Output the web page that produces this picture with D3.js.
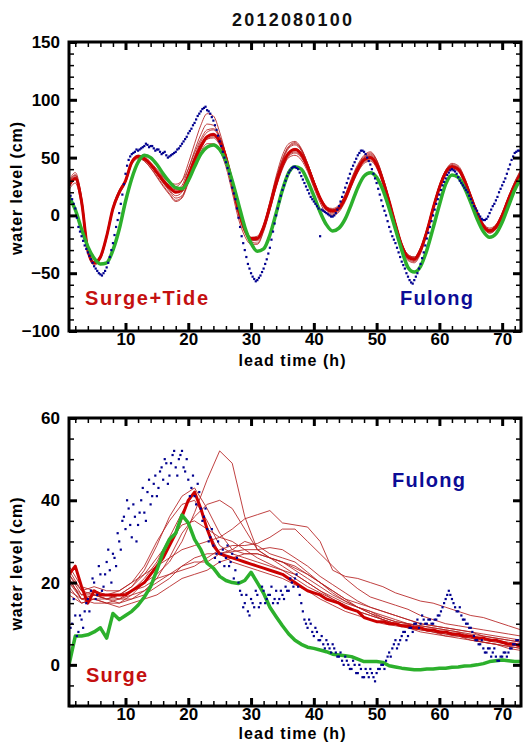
<!DOCTYPE html>
<html><head><meta charset="utf-8">
<script src="https://cdn.jsdelivr.net/npm/d3@7"></script>
<style>
html,body{margin:0;padding:0;background:#fff;}
svg{display:block;}
</style></head><body>
<svg id="c" width="526" height="745"></svg>
<script>
// ---------------- DATA ----------------
const title = "2012080100";
const xLabel = "lead time (h)";
const yLabel = "water level (cm)";
const xTicks = [10, 20, 30, 40, 50, 60, 70];
const topYTicks = [-100, -50, 0, 50, 100, 150];
const botYTicks = [0, 20, 40, 60];
const station = "Fulong";
const topTag = "Surge+Tide";
const botTag = "Surge";

// time grids (hours)
const hoursHourly = d3.range(1, 74, 1);                      // 1..73
const hours2h = d3.range(1, 74, 2);                          // 1,3,..,73
const hoursHalf = d3.range(0, 145).map(i => 1 + i * 0.5);    // 1..73 step .5
const hoursQuarter = d3.range(0, 144).map(i => 1.25 + i * 0.5); // 1.25..72.75 step .5

// ---- Top panel (surge + tide) observed at Fulong ----
const topObs = [
  20, 14, 6, -10, -18, -26, -32, -38, -44, -48,
  -51, -50, -45, -36, -24, -10, 2, 18, 36, 48,
  53, 55, 56, 58, 60, 61, 60, 58, 57, 55,
  54, 52, 51, 53, 55, 58, 62, 66, 71, 75,
  80, 86, 90, 93, 91, 88, 82, 74, 64, 55,
  46, 36, 24, 14, -2, -18, -30, -42, -50, -55,
  -56, -52, -46, -38, -28, -14, 0, 12, 22, 30,
  37, 41, 42, 40, 34, 28, 22, 16, 12, 8,
  -18, 4, 2, 0, -1, 2, 8, 16, 24, 32,
  40, 46, 52, 56, 55, 50, 44, 36, 28, 18,
  8, 0, -10, -18, -24, -32, -40, -46, -53, -58,
  -56, -50, -42, -32, -20, -10, 0, 10, 18, 26,
  32, 37, 40, 38, 33, 28, 24, 20, 14, 8,
  4, -1, -4, -3, 2, 8, 13, 20, 26, 32,
  40, 48, 54, 56, 55
];
const topObsQ = [
  17, 10, -2, -14, -22, -29, -35, -41, -46, -50,
  -52, -48, -41, -30, -17, -4, 10, 27, 43, 51,
  54, 57, 57, 59, 62, 59, 60, 56, 57, 53,
  55, 50, 52, 54, 57, 60, 64, 68, 73, 78,
  83, 88, 92, 94, 90, 85, 78, 69, 60, 50,
  41, 30, 19, 6, -10, -24, -36, -46, -53, -57,
  -54, -49, -42, -33, -21, -7, 6, 17, 26, 34,
  39, 42, 41, 37, 31, 25, 19, 14, 10, 6,
  5, 3, 1, -1, 0, 5, 12, 20, 28, 36,
  43, 49, 54, 56, 53, 47, 40, 32, 23, 13,
  4, -5, -14, -21, -28, -36, -43, -50, -56, -59,
  -53, -46, -37, -26, -15, -5, 5, 14, 22, 29,
  35, 39, 39, 36, 30, 26, 22, 17, 11, 6,
  1, -3, -4, -1, 5, 10, 16, 23, 29, 36,
  44, 51, 55, 56
];
const topGreen = [
  16, 5, -12, -27, -37, -42, -41, -30, -12, 12,
  32, 46, 52, 50, 44, 36, 29, 24, 23, 30,
  42, 53, 59, 61, 57, 47, 30, 10, -10, -24,
  -31, -29, -17, 2, 22, 37, 42, 40, 30, 17,
  3, -8, -13.5, -11, -3, 10, 24, 34, 37, 33,
  22, 6, -12, -30, -45, -49, -44, -30, -11, 9,
  27, 35, 33, 24, 11, -3, -14, -19, -16, -6,
  8, 22, 32
];
const topMean = [
  26, 32, 12, -30, -41, -36, -18, 6, 20, 30,
  46, 51, 49, 44, 37, 30, 24, 20, 22, 34,
  48, 60, 68, 70, 64, 50, 28, 5, -12, -20,
  -20, -10, 8, 28, 44, 54, 57, 53, 42, 28,
  15, 6, 3.5, 6, 15, 28, 40, 48, 50, 44,
  30, 12, -8, -26, -36, -38, -30, -14, 6, 24,
  37, 42, 40, 30, 16, 2, -9, -13.5, -10, 0,
  14, 26, 36
];
const topMemberA = [
  30, 37, 16, -27, -40, -35, -16, 8, 22, 31,
  47, 52, 50, 45, 39, 33, 28, 25, 30, 45,
  62, 78, 88, 86, 72, 52, 26, 2, -14, -22,
  -21, -9, 12, 34, 52, 62, 64, 58, 45, 30,
  16, 8, 5, 8, 18, 32, 44, 52, 55, 48,
  33, 14, -6, -24, -34, -36, -28, -12, 8, 26,
  39, 44, 42, 32, 18, 4, -8, -12, -9, 2,
  16, 29, 39
];
const topMemberB = [
  28, 35, 14, -29, -41, -36, -17, 7, 21, 31,
  47, 52, 50, 44, 37, 31, 26, 22, 26, 40,
  56, 70, 79, 78, 68, 52, 29, 6, -12, -19,
  -18, -8, 11, 32, 49, 60, 63, 57, 45, 30,
  16, 7, 5, 8, 17, 30, 42, 50, 53, 47,
  32, 13, -7, -25, -35, -37, -29, -13, 7, 25,
  38, 43, 41, 31, 17, 3, -8, -12.5, -9, 1,
  15, 28, 38
];
const topMemberC = [
  22, 28, 8, -33, -43, -38, -20, 4, 18, 28,
  44, 49, 47, 41, 33, 25, 18, 12, 15, 28,
  43, 55, 62, 62, 56, 42, 20, -3, -18, -25,
  -25, -14, 4, 24, 40, 50, 52, 48, 38, 24,
  11, 2, 0, 3, 12, 25, 37, 45, 47, 41,
  27, 9, -11, -29, -39, -41, -33, -16, 4, 22,
  35, 40, 38, 28, 14, 0, -11, -15.5, -12, -2,
  12, 24, 34
];
const topMemberD = [
  27, 33, 13, -30, -41, -36, -18, 6, 21, 30,
  46, 51, 49, 43, 36, 29, 22, 17, 20, 32,
  47, 60, 69, 71, 65, 50, 27, 4, -13, -21,
  -21, -11, 7, 27, 43, 54, 58, 54, 43, 29,
  16, 7, 4, 6, 15, 28, 40, 49, 51, 45,
  31, 12, -8, -26, -36, -38, -30, -14, 6, 24,
  37, 42, 40, 30, 16, 2, -9, -13, -10, 0,
  14, 26, 36
];
const topMemberE = [
  24, 31, 11, -31, -42, -37, -19, 5, 19, 29,
  45, 50, 48, 43, 36, 28, 21, 15, 17, 29,
  44, 57, 66, 68, 63, 49, 27, 4, -13, -21,
  -22, -12, 6, 26, 42, 52, 55, 51, 41, 27,
  14, 5, 2, 5, 14, 27, 39, 47, 49, 43,
  29, 11, -9, -27, -37, -39, -31, -15, 5, 23,
  36, 41, 39, 29, 15, 1, -10, -14, -11, -1,
  13, 25, 35
];
const topMemberF = [
  27, 34, 14, -29, -40, -35, -17, 7, 21, 30,
  46, 51, 50, 45, 38, 32, 26, 22, 24, 36,
  51, 64, 72, 74, 67, 52, 30, 7, -11, -19,
  -19, -9, 9, 30, 47, 58, 61, 56, 44, 30,
  16, 7, 5, 7, 16, 29, 41, 50, 52, 46,
  31, 13, -7, -25, -35, -37, -29, -13, 7, 25,
  38, 43, 41, 31, 17, 3, -8, -12.5, -9, 1,
  15, 27, 37
];
const topMemberG = [
  25, 31, 10, -31, -42, -37, -19, 5, 20, 29,
  45, 50, 47, 41, 34, 26, 19, 13, 16, 30,
  45, 58, 66, 67, 61, 47, 24, 1, -15, -23,
  -24, -13, 5, 25, 41, 51, 54, 50, 40, 26,
  13, 4, 1, 4, 13, 26, 38, 46, 48, 42,
  28, 10, -10, -28, -38, -40, -32, -15, 5, 23,
  36, 41, 39, 29, 15, 1, -10, -15, -12, -2,
  12, 24, 34
];
const topMemberH = [
  29, 35, 15, -28, -40, -35, -17, 7, 21, 31,
  47, 52, 51, 46, 40, 34, 29, 27, 30, 40,
  54, 66, 74, 75, 68, 53, 30, 6, -12, -20,
  -19, -9, 10, 31, 48, 59, 62, 57, 45, 30,
  16, 7, 6, 9, 18, 31, 43, 51, 54, 48,
  33, 14, -6, -24, -34, -36, -28, -12, 8, 26,
  39, 45, 43, 33, 18, 4, -7, -11, -8, 2,
  16, 29, 40
];
const topMembers = [topMemberA, topMemberB, topMemberC, topMemberD,
                    topMemberE, topMemberF, topMemberG, topMemberH];

// ---- Bottom panel (surge) ----
const botObs = [
  14, 10, 12, 8, 11, 13, 16, 18, 20, 17,
  22, 19, 25, 23, 27, 24, 30, 35, 33, 38,
  31, 36, 34, 40, 37, 42, 39, 44, 41, 47,
  45, 49, 46, 51, 48, 50, 52, 47, 45, 43,
  41, 44, 38, 36, 33, 31, 29, 27, 25, 28,
  26, 24, 27, 23, 20, 17, 15, 13, 16, 14,
  17, 15, 18, 16, 17, 15, 18, 16, 17, 19,
  18, 20, 21, 19, 15, 11, 9, 10, 7, 8,
  6, 5, 6, 4, 5, 3, 2, 1, 2, 0,
  -1, 0, -2, -1, -3, -2, -1, -3, -2, -1,
  0, 1, 3, 4, 6, 5, 7, 8, 7, 9,
  10, 11, 10, 11, 10, 11, 10, 11, 12, 14,
  16, 18, 16, 14, 13, 12, 11, 10, 9, 7,
  6, 5, 4, 3, 4, 3, 2, 1, 2, 3,
  3, 4, 5, 6, 5
];
const botObsQ = [
  9, 16, 7, 12, 9, 15, 13, 21, 16, 24,
  18, 22, 28, 20, 26, 32, 28, 36, 40, 34,
  39, 30, 37, 43, 35, 45, 41, 46, 43, 48,
  50, 44, 49, 52, 46, 51, 48, 50, 41, 46,
  39, 42, 35, 38, 30, 33, 26, 30, 27, 24,
  29, 25, 21, 26, 18, 14, 17, 12, 15, 18,
  14, 19, 15, 17, 19, 16, 15, 18, 16, 18,
  21, 19, 22, 17, 13, 10, 11, 8, 9, 6,
  7, 4, 5, 3, 4, 2, 3, 0, 1, -1,
  1, -2, 0, -3, -1, -3, -2, -4, -1, 0,
  -1, 2, 2, 5, 4, 6, 8, 6, 9, 8,
  10, 9, 12, 10, 11, 10, 11, 12, 13, 15,
  17, 17, 15, 13, 14, 11, 10, 9, 8, 6,
  5, 6, 3, 4, 2, 4, 1, 2, 3, 2,
  4, 5, 6, 5
];
const botGreen = [
  0, 7, 7, 7.3, 8, 9, 6.5, 12.5, 11, 12,
  13, 14.5, 16.5, 19, 23, 27.5, 30.5, 32, 36.4, 34.5,
  30.5, 28, 24.7, 23.5, 21.5, 20.5, 20, 19.8, 20.5, 22.5,
  20, 17.4, 14, 11.7, 9.5, 7.5, 6, 5, 4.3, 4,
  3.6, 3.2, 2.6, 2.4, 2.2, 2, 1.4, 0.8, 0.8, 0.8,
  0.6, -0.2, -0.5, -0.8, -1, -1.2, -1.2, -1, -1, -0.8,
  -0.8, -0.6, -0.5, -0.3, -0.2, 0, 0.3, 0.8, 1, 1.2,
  1, 0.8, 0.8
];
const botMean = [
  22, 24, 19, 15, 18, 17, 17, 17, 17, 17,
  18, 19, 20, 22, 24, 26, 29, 32, 36, 40,
  42, 38, 33, 29, 27, 26.5, 26, 25.5, 25, 24.5,
  24, 23.5, 23, 22.5, 22, 21, 20, 19, 18, 17.5,
  17, 16, 15.5, 15, 14, 13.5, 13, 11.5, 11, 10.5,
  10.5, 10, 10, 9.5, 9.5, 9, 9, 8.5, 8.5, 8,
  8, 7.5, 7.5, 7, 7, 6.5, 6.5, 6, 6, 5.5,
  5, 5, 4.5
];
// 2-hourly members (t = 1,3,...,73)
const botMember1 = [21,16,17,16,16,17,20,22,25,30, 37,45,52,49,36,28,26,25,24,22, 20,18,16,15,14,13,12,11,10,9.5, 9,8.5,8,7,6.5,6,5.5];
const botMember2 = [22,17,18,17,17,19,23,29,36,41, 43,38,32,28,27,27,26,24,22,20, 18,16,14.5,13,12,11,10,9.5,9,8.5, 8,7.5,7,6.5,6,5,4.5];
const botMember3 = [19,15,16,15,15,16,18,21,26,32, 36,39,40,38,33,28,26,25,23,21, 19,17,15.5,14,13,12,11,10,9.5,9, 8.5,8,7,6.5,6,5.5,5];
const botMember4 = [23,18,19,18,18,20,22,24,26,28, 29,30,31,33,35.5,36.5,37.5,34.5,34,33.5, 30,23,21.5,21,20,19,17.5,16.5,15.5,15, 14,13,12,11.5,10.5,9.5,8.5];
const botMember5 = [20,17,17,16,17,18,19,21,22,23, 24,26,28,29,29,29.5,31,33,33,30, 27,24,21,18.5,16.5,15.5,14.5,13.5,12,11, 10,9.5,9,8.5,8,7.5,7];
const botMember6 = [17,15,16,15,14,15,16,17,19,21, 22,23,25,26,27,27,26,25,23.5,22, 20,18,16,14,12.5,11,10,9,8.5,8, 7.5,7,6.5,5.5,5,4.5,4];
const botMember7 = [24,19,18,17,16,16,17,19,21,24, 25,25,27,28,30,29,27,26,25,22.5, 20,17.5,15.5,14,13,11.5,10.5,10,9,8, 7,7,6,5.5,5,4,3.5];
const botMember8 = [21,16,17,17,18,20,24,30,35,39, 40,35,29,27,26,25,24,23,21,19, 17.5,16,14.5,13,12,11,10,9,8.5,8, 7.5,7,6.5,6,5.5,5,5];
const botMember9 = [18,16,15,15,16,18,21,25,31,37, 42,33,27,25,24,23,22,21,19.5,18, 16,14.5,13,12,11,10,9.5,9,8,7.5, 7,6.5,6,5.5,5,4.5,4];
const botMember10 = [22,18,17,16,15,17,18,20,22,24, 26,27,27,27.5,28,28,28.5,28,26,24, 21.5,19.5,17.5,15.5,14,13,12,11,10,9.5, 9,8.5,8,7.5,7,6.5,6];
const botMember11 = [20,16,16,16,17,19,22,26,30,34, 35,33,31,30,28,26,24.5,23,22,20, 18,16.5,15,14,12.5,11.5,10.5,10,9.5,9, 8.5,8,7.5,7,6.5,6,5.5];
const botMembers = [botMember1, botMember2, botMember3, botMember4, botMember5, botMember6,
                    botMember7, botMember8, botMember9, botMember10, botMember11];

// ---------------- STYLE ----------------
const RED_THIN = "#b52020";
const RED_THICK = "#cc0000";
const GREEN = "#2cb02c";
const BLUE = "#00008f";
const TEXT_RED = "#c41010";
const TEXT_BLUE = "#0c0c96";
const tickFont = '"Liberation Sans Narrow","Arial Narrow","Liberation Sans",Arial,sans-serif';
const labelFont = '"Liberation Sans",Arial,sans-serif';

const svg = d3.select("#c");

function panel(cfg) {
  const x = d3.scaleLinear().domain([1, 73]).range([cfg.left, cfg.right]);
  const y = d3.scaleLinear().domain(cfg.yDomain).range([cfg.bottom, cfg.top]);
  const g = svg.append("g");
  const clipId = "clip" + cfg.id;
  svg.append("clipPath").attr("id", clipId).append("rect")
    .attr("x", cfg.left).attr("y", cfg.top)
    .attr("width", cfg.right - cfg.left).attr("height", cfg.bottom - cfg.top);
  const plot = g.append("g").attr("clip-path", `url(#${clipId})`);

  const curve = cfg.smooth ? d3.curveMonotoneX : d3.curveLinear;
  cfg.members.forEach(m => {
    const line = d3.line().x((d, i) => x(cfg.memberHours[i])).y(d => y(d)).curve(curve);
    plot.append("path").attr("d", line(m)).attr("fill", "none")
      .attr("stroke", RED_THIN).attr("stroke-width", 1).attr("stroke-opacity", 0.85);
  });
  const lineH = d3.line().x((d, i) => x(hoursHourly[i])).y(d => y(d)).curve(curve);
  plot.append("path").attr("d", lineH(cfg.mean)).attr("fill", "none")
    .attr("stroke", RED_THICK).attr("stroke-width", 3).attr("stroke-linejoin", "round");
  plot.append("path").attr("d", lineH(cfg.green)).attr("fill", "none")
    .attr("stroke", GREEN).attr("stroke-width", 3.5).attr("stroke-linejoin", "round");
  const dots = [];
  cfg.obs.forEach((v, i) => dots.push([hoursHalf[i], v]));
  cfg.obsQ.forEach((v, i) => dots.push([hoursQuarter[i], v]));
  plot.selectAll("rect.obs").data(dots).enter().append("rect")
    .attr("class", "obs")
    .attr("x", d => x(d[0]) - 1.1)
    .attr("y", d => y(d[1]) - 1.1)
    .attr("width", 2.2).attr("height", 2.2)
    .attr("fill", BLUE);

  const xMinor = d3.range(2, 73, 2).filter(v => v % 10 !== 0);
  const yMinor = d3.range(cfg.yDomain[0], cfg.yDomain[1] + 0.001, cfg.yMinorStep)
    .filter(v => cfg.yTicks.indexOf(v) < 0);

  function styleTicks(sel, w) {
    sel.select(".domain").remove();
    sel.selectAll(".tick line").attr("stroke", "#000").attr("stroke-width", w);
  }
  function styleText(sel) {
    sel.selectAll("text").attr("fill", "#000")
      .style("font-family", tickFont).style("font-weight", "bold").style("font-size", "17px");
  }
  const ab = g.append("g").attr("transform", `translate(0,${cfg.bottom})`)
    .call(d3.axisBottom(x).tickValues(xTicks).tickSize(-8).tickPadding(2));
  styleTicks(ab, 3); styleText(ab);
  const abm = g.append("g").attr("transform", `translate(0,${cfg.bottom})`)
    .call(d3.axisBottom(x).tickValues(xMinor).tickSize(-5).tickFormat(""));
  styleTicks(abm, 1.5);
  const at = g.append("g").attr("transform", `translate(0,${cfg.top})`)
    .call(d3.axisTop(x).tickValues(xTicks).tickSize(-8).tickFormat(""));
  styleTicks(at, 3);
  const atm = g.append("g").attr("transform", `translate(0,${cfg.top})`)
    .call(d3.axisTop(x).tickValues(xMinor).tickSize(-5).tickFormat(""));
  styleTicks(atm, 1.5);
  const al = g.append("g").attr("transform", `translate(${cfg.left},0)`)
    .call(d3.axisLeft(y).tickValues(cfg.yTicks).tickSize(-8).tickPadding(9));
  styleTicks(al, 3); styleText(al);
  const alm = g.append("g").attr("transform", `translate(${cfg.left},0)`)
    .call(d3.axisLeft(y).tickValues(yMinor).tickSize(-5).tickFormat(""));
  styleTicks(alm, 1.5);
  const ar = g.append("g").attr("transform", `translate(${cfg.right},0)`)
    .call(d3.axisRight(y).tickValues(cfg.yTicks).tickSize(-8).tickFormat(""));
  styleTicks(ar, 3);
  const arm = g.append("g").attr("transform", `translate(${cfg.right},0)`)
    .call(d3.axisRight(y).tickValues(yMinor).tickSize(-5).tickFormat(""));
  styleTicks(arm, 1.5);

  g.append("rect").attr("x", cfg.left).attr("y", cfg.top)
    .attr("width", cfg.right - cfg.left).attr("height", cfg.bottom - cfg.top)
    .attr("fill", "none").attr("stroke", "#000").attr("stroke-width", 3);

  g.append("text").attr("x", (cfg.left + cfg.right) / 2 - 3).attr("y", cfg.xLabelY)
    .attr("text-anchor", "middle").attr("textLength", 107)
    .style("font-family", labelFont).style("font-weight", "bold").style("font-size", "16px")
    .text(xLabel);
  const cy = (cfg.top + cfg.bottom) / 2 + 2;
  g.append("text").attr("transform", `translate(22,${cy}) rotate(-90)`)
    .attr("text-anchor", "middle").attr("textLength", 133)
    .style("font-family", labelFont).style("font-weight", "bold").style("font-size", "16px")
    .text(yLabel);

  g.append("text").attr("x", cfg.tag.x).attr("y", cfg.tag.y).attr("textLength", cfg.tag.len)
    .attr("fill", TEXT_RED).style("font-family", labelFont).style("font-weight", "bold")
    .style("font-size", "20px").text(cfg.tag.text);
  g.append("text").attr("x", cfg.stn.x).attr("y", cfg.stn.y).attr("textLength", 73)
    .attr("fill", TEXT_BLUE).style("font-family", labelFont).style("font-weight", "bold")
    .style("font-size", "20px").text(station);
}

svg.append("text").attr("x", 292).attr("y", 26).attr("text-anchor", "middle")
  .attr("textLength", 120)
  .style("font-family", labelFont).style("font-size", "18px").style("font-weight", "bold")
  .attr("fill", "#111").text(title);

panel({
  id: "top", left: 69, right: 521, top: 42, bottom: 331,
  yDomain: [-100, 150], yTicks: topYTicks, yMinorStep: 10,
  members: topMembers, memberHours: hoursHourly, smooth: true,
  mean: topMean, green: topGreen, obs: topObs, obsQ: topObsQ,
  xLabelY: 366,
  tag: {text: topTag, x: 85, y: 305, len: 123},
  stn: {x: 400, y: 305}
});
panel({
  id: "bot", left: 69, right: 521, top: 418, bottom: 706,
  yDomain: [-10, 60], yTicks: botYTicks, yMinorStep: 5,
  members: botMembers, memberHours: hours2h, smooth: false,
  mean: botMean, green: botGreen, obs: botObs, obsQ: botObsQ,
  xLabelY: 739,
  tag: {text: botTag, x: 86, y: 682, len: 61},
  stn: {x: 392, y: 487}
});
</script>
</body></html>
